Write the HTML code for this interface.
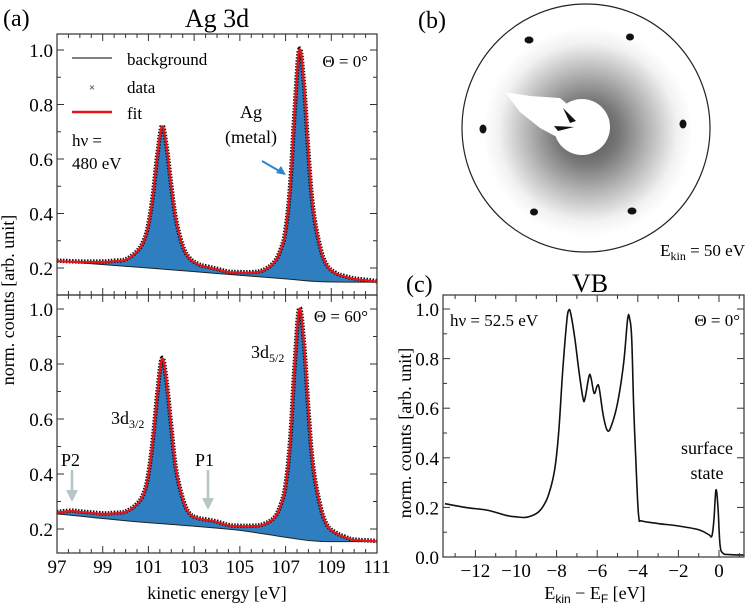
<!DOCTYPE html>
<html><head><meta charset="utf-8"><style>
html,body{margin:0;padding:0;background:#fff;}
svg{display:block;font-family:"Liberation Serif",serif;}
</style></head><body>
<svg id="fig" width="749" height="609" viewBox="0 0 749 609" xmlns="http://www.w3.org/2000/svg">
<defs>
<radialGradient id="halo" cx="0.5" cy="0.5" r="0.5">
<stop offset="0" stop-color="#222"/><stop offset="0.3" stop-color="#555"/><stop offset="0.6" stop-color="#aaa"/><stop offset="0.85" stop-color="#eee"/><stop offset="1" stop-color="#fff"/>
</radialGradient>
</defs>
<g id="pa"></g>
<g id="pb"></g>
<g id="pc"></g>

<!-- panel (b) LEED -->
<g>
<circle cx="586" cy="128" r="124" fill="#fff" stroke="#222" stroke-width="1.2"/>
<circle cx="588" cy="132" r="105" fill="url(#halo)" opacity="0.8"/>
<path d="M505 92 L530 96 L560 98 L580 115 L575 138 L555 136 L540 128 L520 112 Z" fill="#fff"/>
<circle cx="582" cy="127" r="28" fill="#fff"/>
<path d="M563 108 L576 121 L570 123 Z" fill="#111"/>
<path d="M554 126 L574 127 L558 131 Z" fill="#111"/>
<ellipse cx="529" cy="40" rx="4.5" ry="3.5" fill="#111"/>
<ellipse cx="630" cy="37" rx="4" ry="3.5" fill="#111"/>
<ellipse cx="483" cy="129" rx="3.5" ry="4.5" fill="#111"/>
<ellipse cx="683" cy="124" rx="3.5" ry="4.5" fill="#111"/>
<ellipse cx="534" cy="212" rx="4" ry="3.5" fill="#111"/>
<ellipse cx="632" cy="211" rx="4.5" ry="3.5" fill="#111"/>
</g>
<text x="418" y="28" font-size="24">(b)</text>
<text x="745" y="256" font-size="17" text-anchor="end">E<tspan font-size="12" dy="4">kin</tspan><tspan dy="-4"> = 50 eV</tspan></text>

<!-- titles -->
<text x="3" y="26" font-size="24">(a)</text>
<text x="217" y="27" font-size="26" text-anchor="middle">Ag 3d</text>
<text x="406" y="292" font-size="24">(c)</text>
<text x="590" y="292" font-size="26" text-anchor="middle">VB</text>
<text transform="translate(14,300) rotate(-90)" font-size="18" text-anchor="middle">norm. counts  [arb. unit]</text>
<text x="217" y="599" font-size="18" text-anchor="middle">kinetic energy  [eV]</text>
<text transform="translate(411,433) rotate(-90)" font-size="18" text-anchor="middle">norm. counts  [arb. unit]</text>
<text x="595" y="599" font-size="18" text-anchor="middle">E<tspan font-family="Liberation Sans,sans-serif" font-size="12" dy="4">kin</tspan><tspan dy="-4"> − E</tspan><tspan font-family="Liberation Sans,sans-serif" font-size="12" dy="4">F</tspan><tspan dy="-4">  [eV]</tspan></text>

<!-- annotations top -->
<g>
<line x1="72" y1="58" x2="112" y2="58" stroke="#000" stroke-width="1"/>
<text x="127" y="65" font-size="17">background</text>
<text x="92" y="91" font-size="11" text-anchor="middle">×</text>
<text x="127" y="93" font-size="17">data</text>
<line x1="72" y1="112" x2="112" y2="112" stroke="#e8141c" stroke-width="2.5"/>
<text x="127" y="119" font-size="17">fit</text>
</g>
<text x="72" y="146" font-size="17">hν =</text>
<text x="72" y="169" font-size="17">480 eV</text>
<text x="368" y="67" font-size="17" text-anchor="end">Θ = 0°</text>
<text x="251" y="118" font-size="18" text-anchor="middle">Ag</text>
<text x="251" y="143" font-size="18" text-anchor="middle">(metal)</text>
<g><line x1="262" y1="161" x2="281" y2="172" stroke="#2e86c8" stroke-width="2"/><path d="M286 175 L276 173 L281 166 Z" fill="#2e86c8"/></g>
<text x="368" y="322" font-size="17" text-anchor="end">Θ = 60°</text>
<text x="251" y="358" font-size="18">3d<tspan font-size="12" dy="4">5/2</tspan></text>
<text x="111" y="424" font-size="18">3d<tspan font-size="12" dy="4">3/2</tspan></text>
<text x="61" y="466" font-size="18">P2</text>
<text x="195" y="466" font-size="18">P1</text>
<g><line x1="72" y1="470" x2="72" y2="492" stroke="#b5c6c6" stroke-width="2.5"/><path d="M66 490 L78 490 L72 502 Z" fill="#b5c6c6"/></g>
<g><line x1="208" y1="470" x2="208" y2="500" stroke="#b5c6c6" stroke-width="2.5"/><path d="M202 498 L214 498 L208 510 Z" fill="#b5c6c6"/></g>
<text x="450" y="326" font-size="17">hν = 52.5 eV</text>
<text x="740" y="326" font-size="17" text-anchor="end">Θ = 0°</text>
<text x="707" y="454" font-size="18" text-anchor="middle">surface</text>
<text x="707" y="479" font-size="18" text-anchor="middle">state</text>
</svg>
<script>
// ---- data ----
const topE   = [97,98,99,99.5,100,100.5,100.8,101,101.2,101.4,101.6,101.8,102,102.2,102.5,102.8,103.2,103.6,104,104.5,105,105.5,106,106.5,106.8,107,107.2,107.4,107.6,107.8,108,108.2,108.5,108.8,109.2,109.6,110,110.5,111];
const topFit = [0.225,0.222,0.222,0.225,0.23,0.26,0.30,0.36,0.47,0.62,0.72,0.64,0.50,0.38,0.28,0.235,0.212,0.203,0.195,0.185,0.183,0.183,0.19,0.22,0.27,0.34,0.50,0.78,1.0,0.88,0.62,0.42,0.28,0.21,0.18,0.168,0.16,0.155,0.15];
const topBgE = [97,101,104,107,108.5,111];
const topBg  = [0.225,0.2,0.18,0.16,0.15,0.148];
const botE   = [97,97.6,98,99,99.5,100,100.5,100.8,101,101.2,101.4,101.6,101.8,102,102.2,102.5,102.8,103.2,103.6,104,104.5,105,105.5,106,106.5,106.8,107,107.2,107.4,107.6,107.8,108,108.2,108.5,108.8,109.2,109.6,110,111];
const botFit = [0.26,0.265,0.262,0.255,0.257,0.262,0.29,0.33,0.40,0.53,0.70,0.82,0.73,0.57,0.42,0.31,0.255,0.238,0.232,0.225,0.213,0.21,0.21,0.215,0.24,0.29,0.36,0.52,0.80,1.0,0.88,0.63,0.43,0.29,0.215,0.185,0.17,0.16,0.155];
const botBgE = [97,100,103,105,107,108.5,111];
const botBg  = [0.255,0.23,0.21,0.195,0.17,0.155,0.155];
const vbE = [-13.5,-12.5,-11.5,-11,-10.5,-10,-9.5,-9,-8.7,-8.4,-8.1,-7.9,-7.7,-7.5,-7.4,-7.3,-7.1,-6.9,-6.7,-6.6,-6.4,-6.3,-6.15,-6.0,-5.9,-5.7,-5.5,-5.3,-5.0,-4.7,-4.5,-4.4,-4.3,-4.2,-4.05,-3.95,-3.8,-3,-2,-1,-0.5,-0.35,-0.25,-0.15,-0.05,0.05,0.2,0.5,1.2];
const vbI = [0.215,0.2,0.19,0.18,0.168,0.162,0.16,0.175,0.2,0.25,0.35,0.5,0.75,0.95,0.995,0.98,0.88,0.75,0.64,0.64,0.73,0.72,0.66,0.69,0.68,0.57,0.51,0.53,0.62,0.78,0.96,0.96,0.88,0.6,0.3,0.16,0.145,0.135,0.125,0.11,0.09,0.085,0.15,0.27,0.2,0.05,0.015,0.01,0.008];
const xpsTicks = [97,99,101,103,105,107,109,111];
const xpsYTicks = [0.2,0.4,0.6,0.8,1.0];
const vbXTicks = [-12,-10,-8,-6,-4,-2,0];
const vbYTicks = [0.0,0.2,0.4,0.6,0.8,1.0];

const NS="http://www.w3.org/2000/svg";
function mk(parent,tag,attrs){const e=document.createElementNS(NS,tag);for(const k in attrs)e.setAttribute(k,attrs[k]);parent.appendChild(e);return e;}
function smooth(pts){let d=`M${pts[0][0]},${pts[0][1]}`;for(let i=0;i<pts.length-1;i++){const p0=pts[Math.max(0,i-1)],p1=pts[i],p2=pts[i+1],p3=pts[Math.min(pts.length-1,i+2)];const t=0.18;d+=` C${p1[0]+(p2[0]-p0[0])*t},${p1[1]+(p2[1]-p0[1])*t} ${p2[0]-(p3[0]-p1[0])*t},${p2[1]-(p3[1]-p1[1])*t} ${p2[0]},${p2[1]}`;}return d;}
function interp(xs,ys,x){for(let i=0;i<xs.length-1;i++){if(x>=xs[i]&&x<=xs[i+1]){return ys[i]+(ys[i+1]-ys[i])*(x-xs[i])/(xs[i+1]-xs[i]);}}return ys[ys.length-1];}

function frame(g,L,T,R,B,xs,ys,xMinor,yMinor,xf,yf,showX){
  mk(g,'rect',{x:L,y:T,width:R-L,height:B-T,fill:'none',stroke:'#333','stroke-width':1.2});
  xMinor.forEach(v=>{const x=xf(v);const big=xs.includes(v);const l=big?7:4;
    const t1=mk(g,'line',{x1:x,y1:B,x2:x,y2:B-l,stroke:'#333'});
    
    mk(g,'line',{x1:x,y1:T,x2:x,y2:T+l,stroke:'#333'});});
  yMinor.forEach(v=>{const y=yf(v);if(y<T||y>B)return;const big=ys.some(t=>Math.abs(t-v)<1e-6);const l=big?7:4;
    const t2=mk(g,'line',{x1:L,y1:y,x2:L+l,y2:y,stroke:'#333'});
    
    mk(g,'line',{x1:R,y1:y,x2:R-l,y2:y,stroke:'#333'});});
  ys.forEach(v=>{const t=mk(g,'text',{x:L-4,y:yf(v)+7,'font-size':19,'text-anchor':'end'});t.textContent=v.toFixed(1);
    });
  if(showX) xs.forEach(v=>{const t=mk(g,'text',{x:xf(v),y:B+20,'font-size':19,'text-anchor':'middle'});t.textContent=(v<0?'−'+(-v):String(v));
    });
}

function xpsPanel(g,T,B,y02,y10,E,F,bE,bV,showX){
  const L=57,R=377;const xf=v=>L+(v-97)*(R-L)/14;const yf=v=>y02-(v-0.2)*(y02-y10)/0.8;
  const fitPts=E.map((e,i)=>[xf(e),yf(F[i])]);
  const bgPts=E.map(e=>[xf(e),yf(interp(bE,bV,e))]);
  const area=mk(g,'path',{d:smooth(fitPts)+' L'+bgPts.slice().reverse().map(p=>p[0]+','+p[1]).join(' L')+' Z',fill:'#2f7fc0'});
  
  const bg=mk(g,'path',{d:smooth(bE.map((e,i)=>[xf(e),yf(bV[i])])),fill:'none',stroke:'#222','stroke-width':1});
  
  const dat=mk(g,'path',{d:smooth(fitPts),fill:'none',stroke:'#111','stroke-width':4.5,'stroke-dasharray':'1.5 1.5',transform:'translate(0,-0.5)'});
  
  const fit=mk(g,'path',{d:smooth(fitPts),fill:'none',stroke:'#e8141c','stroke-width':2.2});
  
  const minor=[];for(let v=97;v<=111.001;v+=0.5)minor.push(Math.round(v*2)/2);
  const yminor=[];for(let v=0.1;v<=1.05;v+=0.1)yminor.push(Math.round(v*10)/10);
  frame(g,L,T,R,B,xpsTicks,xpsYTicks,minor,yminor,xf,yf,showX);
}
xpsPanel(document.getElementById('pa'),34,295,268,50,topE,topFit,topBgE,topBg,false);
xpsPanel(document.getElementById('pb'),295,553,529,309,botE,botFit,botBgE,botBg,true);

(function(){
  const g=document.getElementById('pc');const L=443,R=744,T=295,B=557;
  const xf=v=>719+v*20.3;const yf=v=>557-v*248;
  const line=mk(g,'path',{d:smooth(vbE.map((e,i)=>[xf(e),yf(vbI[i])])),fill:'none',stroke:'#111','stroke-width':1.6});
  
  const minor=[];for(let v=-13;v<=1;v+=1)minor.push(v);
  const yminor=[];for(let v=0;v<=1.05;v+=0.1)yminor.push(Math.round(v*10)/10);
  frame(g,L,T,R,B,vbXTicks,vbYTicks,minor,yminor,xf,yf,true);
})();
</script>
</body></html>
